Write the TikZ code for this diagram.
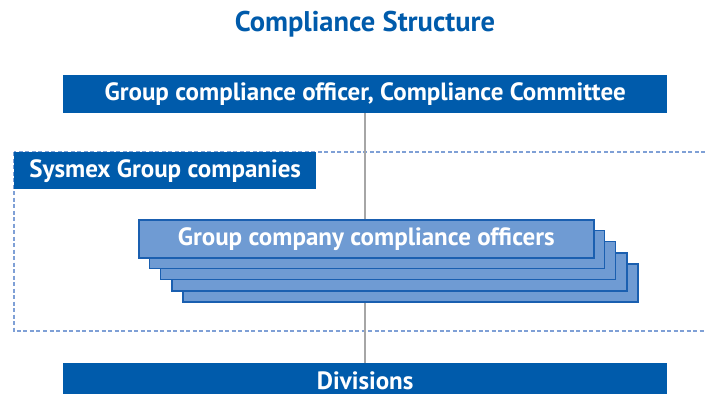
\documentclass[tikz,border=0pt]{standalone}
\usepackage{fontspec}
\setmainfont{PT Sans}
\definecolor{dblue}{HTML}{005BAB}
\definecolor{lblue}{HTML}{6F9BD3}
\definecolor{eblue}{HTML}{1A5FB0}
\definecolor{dashcol}{HTML}{7FA0D6}
\definecolor{lgray}{HTML}{A6A6A6}
\begin{document}
\begin{tikzpicture}[x=1pt,y=-1pt,
  darkbox/.style={fill=dblue,draw=none,text=white,font=\bfseries\fontsize{25}{28}\selectfont,inner sep=0pt,anchor=north west},
  stackbox/.style={fill=lblue,draw=eblue,line width=1.5pt},
  conn/.style={draw=lgray,line width=2pt}]
\useasboundingbox (0,0) rectangle (705,394);
\clip (0,0) rectangle (705,394);
% title
\node[text=dblue,font=\bfseries\fontsize{28.5}{32}\selectfont] (title) at (365,24) {Compliance Structure};
% dashed region
\draw[dashcol,line width=1.5pt,dash pattern=on 4pt off 2.5pt] (14,152) rectangle (720,331);
% top and bottom boxes
\node[darkbox,minimum width=604pt,minimum height=38pt] (top) at (63,75) {Group compliance officer, Compliance Committee};
\node[darkbox,minimum width=604pt,minimum height=31pt,text height=21pt,text depth=0pt] (div) at (63,363) {Divisions};
% connector
\draw[conn] (top.south) -- (div.north);
% Sysmex box
\node[darkbox,minimum width=302pt,minimum height=37pt] (sys) at (14,152) {Sysmex Group companies};
% stack
\foreach \i in {4,3,2,1} {
  \draw[stackbox] ({138+11.3*\i},{219+11.3*\i}) rectangle ++(455,38);
}
\node[stackbox,anchor=north west,minimum width=455pt,minimum height=38pt,inner sep=0pt,text=white,font=\bfseries\fontsize{25}{28}\selectfont] (gco) at (138,219) {Group company compliance officers};
\end{tikzpicture}
\end{document}
